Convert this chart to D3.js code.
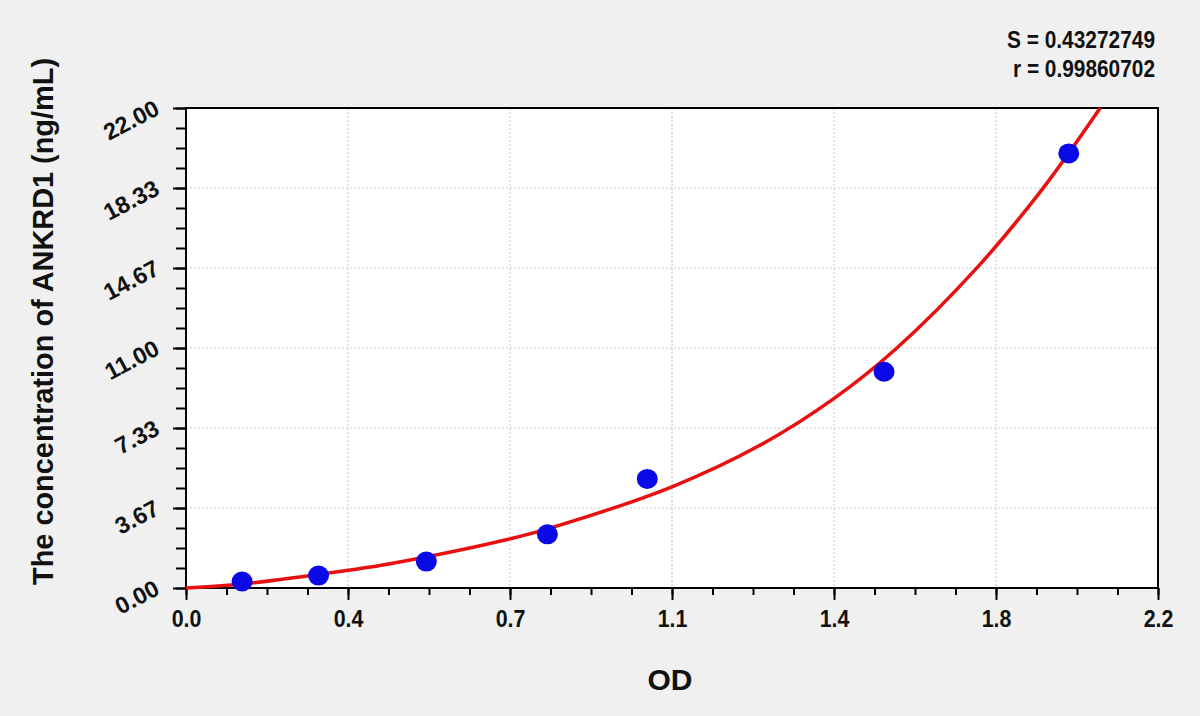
<!DOCTYPE html>
<html><head><meta charset="utf-8">
<script src="https://cdn.jsdelivr.net/npm/d3@7"></script>
<style>
html,body{margin:0;padding:0;background:#f0f0f0;}
svg{display:block;}
text{font-family:"Liberation Sans",Arial,sans-serif;font-weight:bold;fill:#111;}
</style></head>
<body>
<svg id="chart" width="1200" height="716"></svg>
<script>
// ---- data ----
const pointOD   = [0.127, 0.300, 0.544, 0.818, 1.044, 1.580, 1.998];
const pointConc = [0.30, 0.57, 1.21, 2.46, 5.00, 9.91, 19.92];

const curveOD   = [0, 0.127, 0.300, 0.439, 0.545, 0.733, 0.820, 1.100, 1.300, 1.467, 1.609, 1.790, 1.940, 2.069];
const curveConc = [0, 0.18, 0.62, 1.03, 1.43, 2.25, 2.72, 4.64, 6.55, 8.69, 11.00, 14.67, 18.33, 22.00];

const xTickValues = [0, 2.2/6, 4.4/6, 1.1, 8.8/6, 11/6, 2.2];
const xTickLabels = ["0.0","0.4","0.7","1.1","1.4","1.8","2.2"];
const yTickValues = [0, 22/6, 44/6, 11, 88/6, 110/6, 22];
const yTickLabels = ["0.00","3.67","7.33","11.00","14.67","18.33","22.00"];

const statS = "S = 0.43272749";
const statR = "r = 0.99860702";
const xTitle = "OD";
const yTitle = "The concentration of ANKRD1 (ng/mL)";

// ---- layout ----
const L = 186, R = 1158, T = 108, B = 588;
const svg = d3.select("#chart");
const x = d3.scaleLinear().domain([0, 2.2]).range([L, R]);
const y = d3.scaleLinear().domain([0, 22]).range([B, T]);

svg.append("rect").attr("width",1200).attr("height",716).attr("fill","#f0f0f0");
svg.append("rect").attr("x",L).attr("y",T).attr("width",R-L).attr("height",B-T).attr("fill","#fff");

// grid
const grid = svg.append("g").attr("stroke","#c4c4c4").attr("stroke-width",1).attr("stroke-dasharray","2,2");
grid.selectAll("line.v").data(xTickValues.slice(1,-1)).join("line")
  .attr("x1",d=>x(d)).attr("x2",d=>x(d)).attr("y1",T).attr("y2",B);
grid.selectAll("line.h").data(yTickValues.slice(1,-1)).join("line")
  .attr("y1",d=>y(d)).attr("y2",d=>y(d)).attr("x1",L).attr("x2",R);

// minor ticks
const xMinor = d3.range(0,25).map(i=>i*2.2/24);
const yMinor = d3.range(0,25).map(i=>i*22/24);
svg.append("g").attr("transform",`translate(0,${B})`)
  .call(d3.axisBottom(x).tickValues(xMinor).tickSize(7).tickSizeOuter(0).tickFormat(""))
  .call(g=>g.select(".domain").remove())
  .call(g=>g.selectAll("line").attr("stroke","#000").attr("stroke-width",2));
svg.append("g").attr("transform",`translate(${L},0)`)
  .call(d3.axisLeft(y).tickValues(yMinor).tickSize(10).tickSizeOuter(0).tickFormat(""))
  .call(g=>g.select(".domain").remove())
  .call(g=>g.selectAll("line").attr("stroke","#000").attr("stroke-width",2));

// major x axis
svg.append("g").attr("transform",`translate(0,${B})`)
  .call(d3.axisBottom(x).tickValues(xTickValues).tickSize(12).tickPadding(11).tickSizeOuter(0)
        .tickFormat((d,i)=>xTickLabels[i]))
  .call(g=>g.select(".domain").remove())
  .call(g=>g.selectAll("line").attr("stroke","#000").attr("stroke-width",2))
  .call(g=>g.selectAll("text").attr("font-size",23).attr("font-family","Liberation Sans, Arial, sans-serif")
        .attr("font-weight","bold").attr("fill","#111")
        .attr("textLength",function(){return this.getComputedTextLength()*0.93;})
        .attr("lengthAdjust","spacingAndGlyphs"));

// major y axis with slanted labels
svg.append("g").attr("transform",`translate(${L},0)`)
  .call(d3.axisLeft(y).tickValues(yTickValues).tickSize(13).tickSizeOuter(0)
        .tickFormat((d,i)=>yTickLabels[i]))
  .call(g=>g.select(".domain").remove())
  .call(g=>g.selectAll("line").attr("stroke","#000").attr("stroke-width",2))
  .call(g=>g.selectAll("text").attr("font-size",23.5).attr("font-family","Liberation Sans, Arial, sans-serif")
        .attr("font-weight","bold").attr("fill","#111")
        .attr("x",0).attr("dy",0).attr("text-anchor","end")
        .attr("transform","translate(-25,5) rotate(-28)"));

// frame
svg.append("rect").attr("x",L).attr("y",T).attr("width",R-L).attr("height",B-T)
  .attr("fill","none").attr("stroke","#000").attr("stroke-width",2);

// fitted curve
const line = d3.line().x(d=>x(d[0])).y(d=>y(d[1])).curve(d3.curveCatmullRom.alpha(0.5));
svg.append("path").datum(curveOD.map((v,i)=>[v,curveConc[i]]))
  .attr("d",line).attr("fill","none").attr("stroke","#e81010").attr("stroke-width",3.5);

// points
svg.append("g").selectAll("ellipse").data(pointOD.map((v,i)=>[v,pointConc[i]])).join("ellipse")
  .attr("cx",d=>x(d[0])).attr("cy",d=>y(d[1])).attr("rx",10.5).attr("ry",10)
  .attr("fill","#0a0ae6");

// titles
svg.append("text").attr("x",(L+R)/2-2).attr("y",690).attr("text-anchor","middle")
  .attr("font-size",30).text(xTitle);
svg.append("text").attr("transform","translate(53,321.5) rotate(-90)").attr("text-anchor","middle")
  .attr("font-size",29).attr("textLength",527).attr("lengthAdjust","spacingAndGlyphs").text(yTitle);

// stats
svg.append("text").attr("x",1155).attr("y",48).attr("text-anchor","end").attr("font-size",23)
  .attr("textLength",148).attr("lengthAdjust","spacingAndGlyphs").text(statS);
svg.append("text").attr("x",1155).attr("y",76.5).attr("text-anchor","end").attr("font-size",23)
  .attr("textLength",142).attr("lengthAdjust","spacingAndGlyphs").text(statR);
</script>
</body></html>
